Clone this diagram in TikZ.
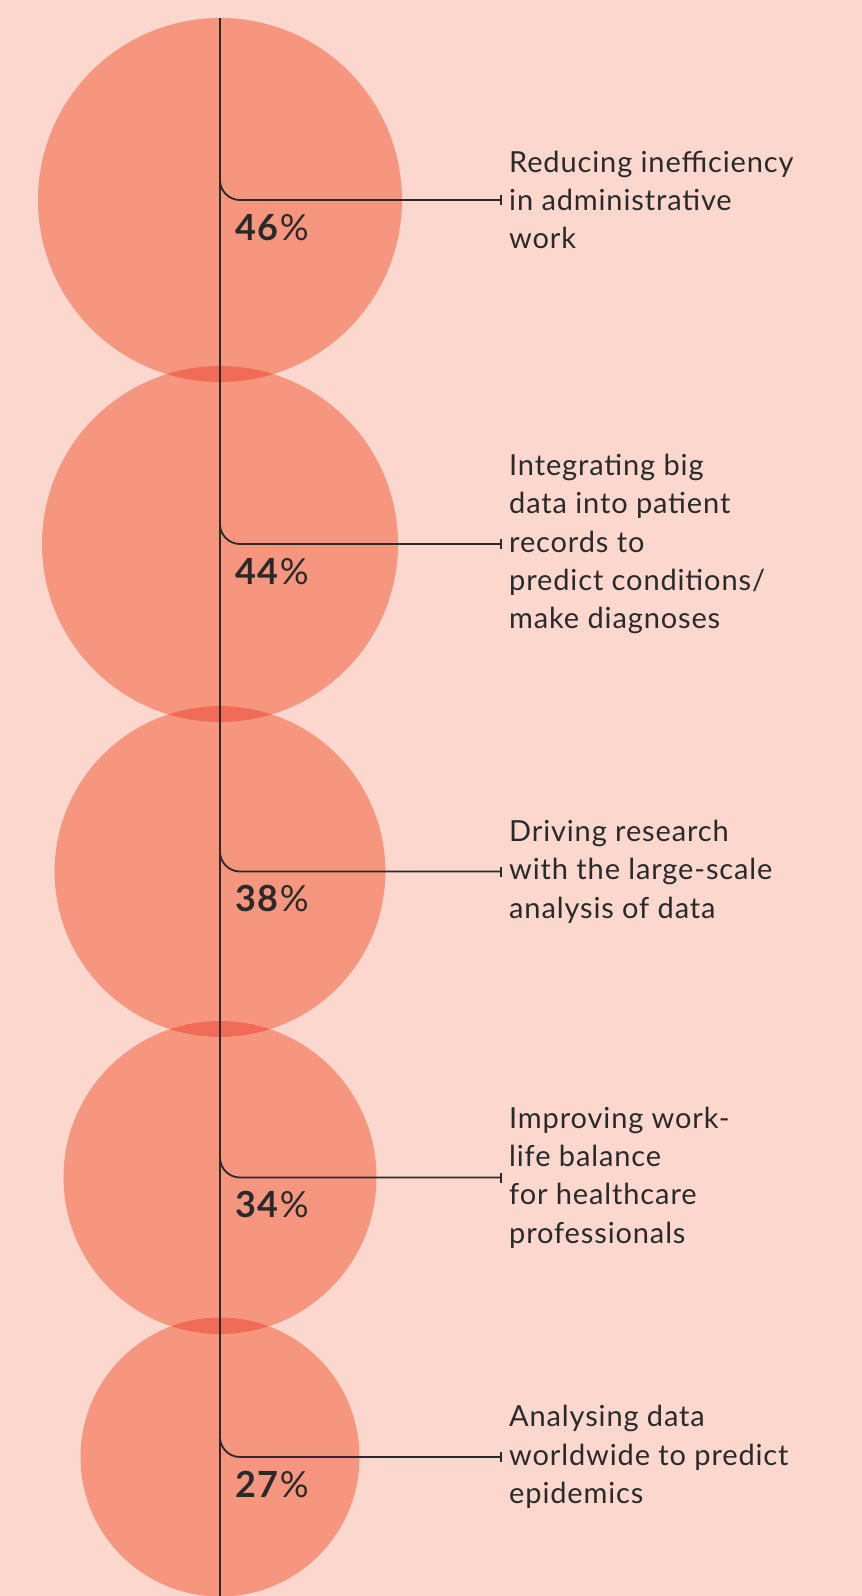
\documentclass[tikz,border=0pt]{standalone}
\usepackage{fontspec}
\setmainfont{Lato}
\usetikzlibrary{arrows.meta}
\definecolor{bgc}{HTML}{FBD7CE}
\definecolor{circc}{HTML}{F6967F}
\definecolor{lensc}{HTML}{F16C58}
\definecolor{inkc}{HTML}{2A2A2A}
\tikzset{
  bubble/.style={fill=circc, draw=none},
  lens/.style={fill=lensc, draw=none},
  axisline/.style={draw=inkc, line width=1.8pt},
  leader/.style={draw=inkc, line width=1.8pt, rounded corners=20pt, -{Bar[width=10pt,line width=1.6pt]}},
  pct/.style={anchor=base west, inner sep=0pt, text=inkc, font=\fontsize{36}{40}\selectfont\addfontfeatures{LetterSpace=4}},
  lbl/.style={anchor=west, inner sep=0pt, align=left, text=inkc, font=\fontsize{29}{38.3}\selectfont\addfontfeatures{LetterSpace=3}}
}
\begin{document}
\begin{tikzpicture}[x=1pt,y=-1pt]
\fill[bgc] (0,0) rectangle (862,1596);
\useasboundingbox (0,0) rectangle (862,1596);
% circles
\def\cx{220}
\path[bubble] (\cx,200) circle[radius=182];
\path[bubble] (\cx,544) circle[radius=178];
\path[bubble] (\cx,871.5) circle[radius=165.4];
\path[bubble] (\cx,1177.5) circle[radius=156.5];
\path[bubble] (\cx,1457) circle[radius=139.5];
% overlaps
\begin{scope}\clip (\cx,200) circle[radius=182]; \path[lens] (\cx,544) circle[radius=178];\end{scope}
\begin{scope}\clip (\cx,544) circle[radius=178]; \path[lens] (\cx,871.5) circle[radius=165.4];\end{scope}
\begin{scope}\clip (\cx,871.5) circle[radius=165.4]; \path[lens] (\cx,1177.5) circle[radius=156.5];\end{scope}
\begin{scope}\clip (\cx,1177.5) circle[radius=156.5]; \path[lens] (\cx,1457) circle[radius=139.5];\end{scope}
% axis
\coordinate (top) at (\cx,18);
\coordinate (bot) at (\cx,1596);
\draw[axisline] (top) -- (bot);
% items
\foreach \i/\cy/\p/\t in {
  1/200/46/{Reducing inefficiency\\in administrative\\work},
  2/544/44/{Integrating big\\data into patient\\records to\\predict conditions/\\make diagnoses},
  3/871.5/38/{Driving research\\with the large-scale\\analysis of data},
  4/1177.5/34/{Improving work-\\life balance\\for healthcare\\professionals},
  5/1457/27/{Analysing data\\worldwide to predict\\epidemics}}{
  \coordinate (s\i) at (\cx,\cy-59);
  \coordinate (e\i) at (502,\cy);
  \node[lbl] (t\i) at (509,\cy) {\t};
  \node[pct] (p\i) at (235,\cy+40) {\textbf{\p}\%};
  \draw[leader] (s\i) |- (e\i);
}
\end{tikzpicture}
\end{document}
